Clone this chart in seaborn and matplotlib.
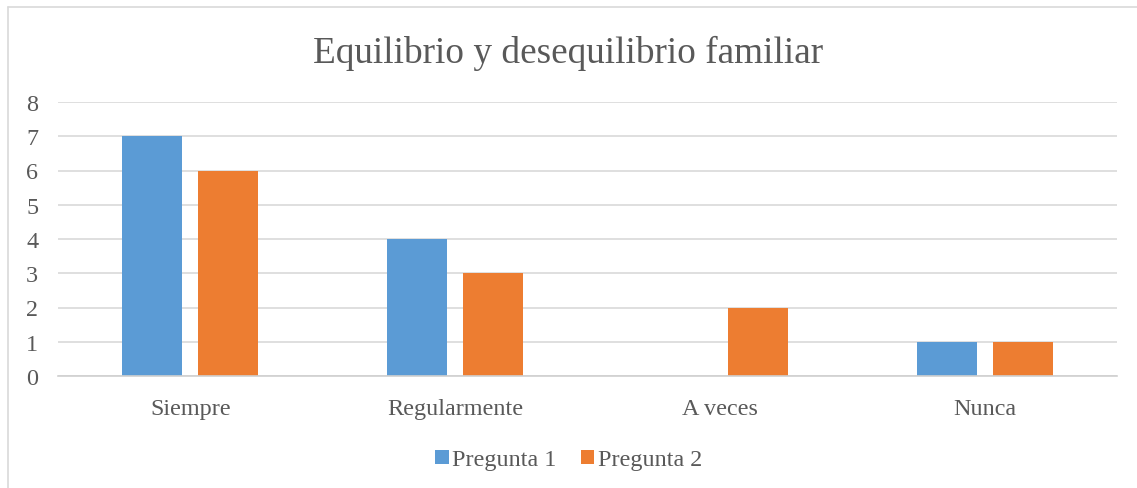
import matplotlib
matplotlib.use("Agg")
import matplotlib.pyplot as plt
from matplotlib.lines import Line2D
from matplotlib.patches import Patch
import seaborn as sns
import pandas as pd

categories = ["Siempre", "Regularmente", "A veces", "Nunca"]
series_names = ["Pregunta 1", "Pregunta 2"]
pregunta1 = [7, 4, 0, 1]
pregunta2 = [6, 3, 2, 1]
yticks = [0, 1, 2, 3, 4, 5, 6, 7, 8]
title = "Equilibrio y desequilibrio familiar"

colors = ["#5B9BD5", "#ED7D31"]
text_color = "#595959"

sns.set_theme(style="white")
plt.rcParams["font.family"] = ["Liberation Serif", "DejaVu Serif"]

df = pd.DataFrame({
    "cat": categories * 2,
    "val": pregunta1 + pregunta2,
    "serie": [series_names[0]] * 4 + [series_names[1]] * 4,
})

fig = plt.figure(figsize=(11.37, 4.89), dpi=100)
ax = fig.add_axes([58 / 1137, 1 - 377 / 489, (1117 - 58) / 1137, (377 - 103) / 489])

sns.barplot(data=df, x="cat", y="val", hue="serie", palette=colors,
            width=0.574, gap=0.21, ax=ax, legend=False, saturation=1,
            edgecolor="none", linewidth=0)

ax.set_ylim(0, 8)
ax.set_xlim(-0.5, 3.5)
ax.set_yticks(yticks)
ax.set_yticklabels([str(t) for t in yticks], fontsize=17.4, color=text_color)
ax.set_xticks(range(len(categories)))
ax.set_xticklabels(categories, fontsize=17.4, color=text_color)
ax.tick_params(axis="x", length=0, pad=16)
ax.set_xlabel("")
ax.set_ylabel("")
ax.yaxis.grid(True, color="#d9d9d9", linewidth=1.2)
ax.set_axisbelow(True)
for s in ["top", "right", "left"]:
    ax.spines[s].set_visible(False)
ax.spines["bottom"].set_color("#d0d0d0")
ax.spines["bottom"].set_linewidth(1.2)
for lab in ax.get_yticklabels():
    lab.set_horizontalalignment("left")
ax.tick_params(axis="y", length=0, pad=23)

fig.text(0.5, 1 - 53 / 489, title, ha="center", va="center",
         fontsize=26.8, color=text_color)

handles = [Patch(facecolor=c, edgecolor="none") for c in colors]
fig.legend(handles, series_names, loc="center", bbox_to_anchor=(0.5, 1 - 461 / 489),
           ncol=2, frameon=False, fontsize=17.4, labelcolor=text_color,
           handlelength=0.55, handleheight=0.55, handletextpad=0.15, columnspacing=1.0)

# chart frame (left and top edges visible)
fig.add_artist(Line2D([7.5 / 1137, 7.5 / 1137], [0, 1 - 7.5 / 489],
                      transform=fig.transFigure, color="#d9d9d9", linewidth=1.2))
fig.add_artist(Line2D([7.5 / 1137, 1], [1 - 7.5 / 489, 1 - 7.5 / 489],
                      transform=fig.transFigure, color="#d9d9d9", linewidth=1.2))

fig.savefig("out.png", dpi=100, facecolor="white")
